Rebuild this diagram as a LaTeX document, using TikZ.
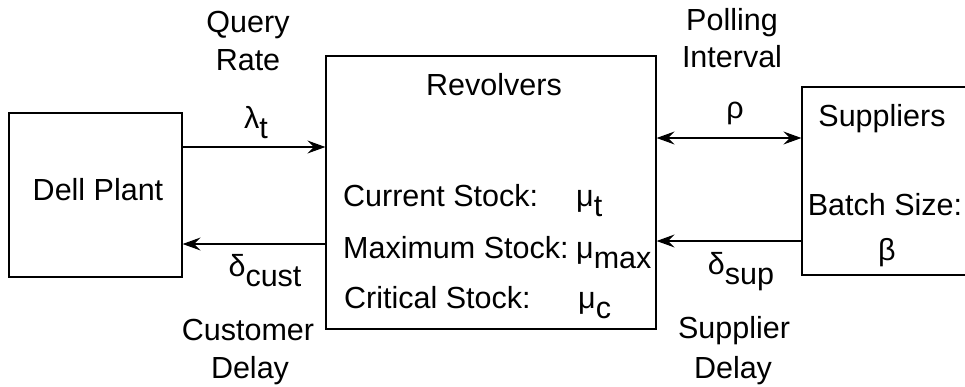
\documentclass[tikz,border=0pt]{standalone}
\usepackage{fontspec}
\setmainfont{Liberation Sans}
\usetikzlibrary{arrows.meta}
\newcommand{\lowered}[1]{\raisebox{-10pt}{#1}}
\begin{document}
\begin{tikzpicture}[x=1pt,y=-1pt,
  box/.style={draw, line width=1.2pt, inner sep=0pt},
  lbl/.style={font=\fontsize{30.5}{37}\selectfont, inner sep=0pt, anchor=base},
  lblw/.style={lbl, anchor=base west},
  tip/.tip={Stealth[length=18pt,width=13pt,inset=6.5pt]},
  conn/.style={line width=1.2pt, -tip},
  conn2/.style={line width=1.2pt, tip-tip},
]
\useasboundingbox (0,0) rectangle (965,386);
\clip (0,0) rectangle (965,386);

% boxes
\node[box, minimum width=173pt, minimum height=164pt] (dell) at (95.5,195) {};
\node[box, minimum width=330pt, minimum height=273pt] (rev) at (491,192.5) {};
\node[box, minimum width=200pt, minimum height=188pt] (sup) at (902,181) {};

% box texts
\node[lbl] (dellt) at (98,200) {Dell Plant};
\node[lbl] (revt) at (494,95) {Revolvers};
\node[lblw] (cur) at (343,206) {Current Stock:};
\node[lblw] (curv) at (576,206) {μ\lowered{t}};
\node[lblw] (max) at (343,258) {Maximum Stock:};
\node[lblw] (maxv) at (576,258) {μ\lowered{max}};
\node[lblw] (crit) at (344,308) {Critical Stock:};
\node[lblw] (critv) at (578,308) {μ\lowered{c}};
\node[lbl] (supt) at (882,126) {Suppliers};
\node[lbl] (batch) at (885,215) {Batch Size:};
\node[lbl] (beta) at (887,260) {β};

% labels
\node[lbl] (q1) at (248,32) {Query};
\node[lbl] (q2) at (248,70) {Rate};
\node[lbl] (lam) at (256,128) {λ\lowered{t}};
\node[lbl] (dc) at (265,276) {δ\lowered{cust}};
\node[lbl] (c1) at (248,340) {Customer};
\node[lbl] (c2) at (250,378) {Delay};
\node[lbl] (p1) at (732,30) {Polling};
\node[lbl] (p2) at (732,67) {Interval};
\node[lbl] (rho) at (735,118) {ρ};
\node[lbl] (ds) at (741,274) {δ\lowered{sup}};
\node[lbl] (s1) at (734,338) {Supplier};
\node[lbl] (s2) at (733,378) {Delay};

% connectors
\draw[conn] (dell.east |- 0,147) -- (rev.west |- 0,147);
\draw[conn] (rev.west |- 0,244) -- (dell.east |- 0,244);
\draw[conn2] (rev.east |- 0,138) -- (sup.west |- 0,138);
\draw[conn] (sup.west |- 0,241) -- (rev.east |- 0,241);
\end{tikzpicture}
\end{document}
